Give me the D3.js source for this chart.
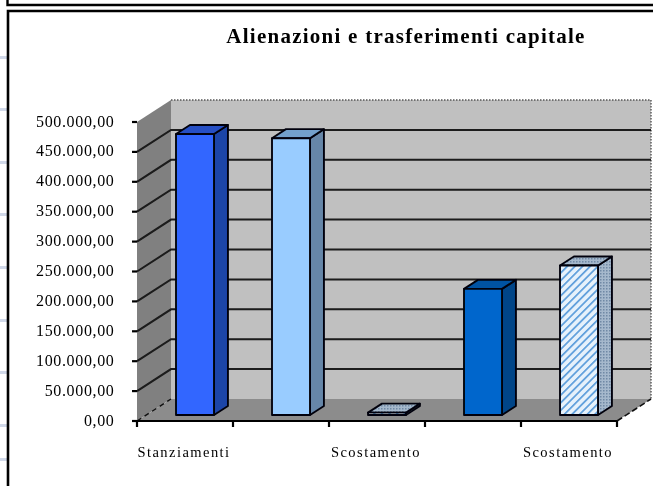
<!DOCTYPE html>
<html><head><meta charset="utf-8">
<script src="https://cdn.jsdelivr.net/npm/d3@7"></script>
<style>html,body{margin:0;padding:0;background:#fff}svg{display:block}text{font-family:"Liberation Serif",serif;fill:#000}</style>
</head><body><svg id="c" width="653" height="486"></svg>
<script>
const chartTitle = "Alienazioni e trasferimenti capitale";
const categories = ["Stanziamenti", "Cat2", "Scostamento", "Cat4", "Scostamento "];
const categoryLabels = ["Stanziamenti", "", "Scostamento", "", "Scostamento"];
const values = [470000, 463000, 4000, 211000, 250000];
const frontColors = ["#3366ff", "#99ccff", "hatch", "#0066cc", "hatch"];
const topColors = ["#2650c4", "#73a0cc", "#8fa9c4", "#0052a3", "#8fa9c4"];
const sideColors = ["#1f44a8", "#6686a8", "#8a9bb0", "#004488", "#8a9bb0"];
const yTicks = [0,50000,100000,150000,200000,250000,300000,350000,400000,450000,500000];
const pageMarksY = [57,109,162,214,267,320,372,425,459];
const fmt = v => d3.format(",.2f")(v).replace(/,/g,"#").replace(".",",").replace(/#/g,".");

const root = d3.select("#c");
const defs = root.append("defs");
defs.append("filter").attr("id","soft").attr("x",0).attr("y",0).attr("width","100%").attr("height","100%")
  .append("feGaussianBlur").attr("stdDeviation",0.4);
const svg = root.append("g").attr("filter","url(#soft)");
svg.append("rect").attr("width",653).attr("height",486).attr("fill","#fff");
const h = defs.append("pattern").attr("id","hatch").attr("width",5.4).attr("height",5.4)
  .attr("patternUnits","userSpaceOnUse").attr("patternTransform","rotate(-45)");
h.append("rect").attr("width",5.4).attr("height",5.4).attr("fill","#e6f1fb");
h.append("rect").attr("width",5.4).attr("height",1.7).attr("fill","#5c9ddb");
const d = defs.append("pattern").attr("id","dots").attr("width",3).attr("height",3).attr("patternUnits","userSpaceOnUse");
d.append("rect").attr("width",3).attr("height",3).attr("fill","#a5b8cc");
d.append("rect").attr("width",1.5).attr("height",1.5).attr("fill","#7089a5");

// page fragments
pageMarksY.forEach(y=>svg.append("rect").attr("x",0).attr("y",y-1).attr("width",7).attr("height",3).attr("fill","#d0d8e8"));
svg.append("path").attr("d","M7.5 0V5H653").attr("fill","none").attr("stroke","#000").attr("stroke-width",2.4);
svg.append("path").attr("d","M653 11H8V486").attr("fill","none").attr("stroke","#000").attr("stroke-width",2.6);

// 3D geometry
const x = d3.scaleBand().domain(categories).range([137,617]);
const y = d3.scaleLinear().domain([0,500000]).range([421,122]);
const depth = {dx:34, dy:-22};
const wallX0 = x.range()[0]+depth.dx, wallX1 = x.range()[1]+depth.dx;
const line = d3.line();
// back wall
svg.append("path").attr("d",line([[wallX0,y(500000)+depth.dy],[wallX1,y(500000)+depth.dy],[wallX1,y(0)+depth.dy],[wallX0,y(0)+depth.dy]])+"Z").attr("fill","#c0c0c0");
svg.append("path").attr("d",line([[wallX0,y(500000)+depth.dy],[wallX1,y(500000)+depth.dy],[wallX1,y(0)+depth.dy]])).attr("fill","none").attr("stroke","#555").attr("stroke-width",1.4).attr("stroke-dasharray","1.5 1.5");
// left wall
svg.append("path").attr("d",line([[137,y(0)],[wallX0,y(0)+depth.dy],[wallX0,y(500000)+depth.dy],[137,y(500000)]])+"Z").attr("fill","#808080");
// floor
svg.append("path").attr("d",line([[137,y(0)],[wallX0,y(0)+depth.dy],[wallX1,y(0)+depth.dy],[617,y(0)]])+"Z").attr("fill","#8c8c8c");
// gridlines
yTicks.forEach(t=>{
  if(t>0 && t<500000) svg.append("path").attr("d",line([[137,y(t)],[wallX0,y(t)+depth.dy],[wallX1,y(t)+depth.dy]])).attr("fill","none").attr("stroke","#1a1a1a").attr("stroke-width",2);
});
svg.append("path").attr("d",line([[137,y(0)],[wallX0,y(0)+depth.dy]])).attr("fill","none").attr("stroke","#111").attr("stroke-width",1.4).attr("stroke-dasharray","5 4");
svg.append("path").attr("d",line([[617,y(0)],[wallX1,y(0)+depth.dy]])).attr("fill","none").attr("stroke","#111").attr("stroke-width",1.6).attr("stroke-dasharray","6 3");
// axes
svg.append("path").attr("d",line([[137,421],[617,421]])).attr("stroke","#000").attr("stroke-width",2);
x.domain().forEach(c=>{svg.append("line").attr("x1",x(c)).attr("x2",x(c)).attr("y1",421).attr("y2",427).attr("stroke","#000").attr("stroke-width",2.2);});
svg.append("line").attr("x1",617).attr("x2",617).attr("y1",421).attr("y2",427).attr("stroke","#000").attr("stroke-width",2.2);
svg.append("g").selectAll("text").data(categories).join("text")
  .attr("x",c=>x(c)+x.bandwidth()/2-1).attr("y",457).attr("text-anchor","middle")
  .attr("font-size",14.5).attr("letter-spacing",1.45).text((c,i)=>categoryLabels[i]);
yTicks.forEach(t=>{
  svg.append("line").attr("x1",132).attr("x2",137).attr("y1",y(t)).attr("y2",y(t)).attr("stroke","#000").attr("stroke-width",2.2);
  svg.append("text").attr("x",114.5).attr("y",y(t)+4.5).attr("text-anchor","end").attr("font-size",16).attr("letter-spacing",0.65).text(fmt(t));
});
// bars
const barOffset=39, barW=38, fz=0.27, bz=0.68;
values.forEach((v,i)=>{
  const x0=x(categories[i])+barOffset, x1=x0+barW;
  const ox=depth.dx*(bz-fz), oy=depth.dy*(bz-fz);
  const base=y(0)+depth.dy*fz, top=base-(y(0)-y(v));
  const fill=frontColors[i]==="hatch"?"url(#hatch)":frontColors[i];
  const side=frontColors[i]==="hatch"?"url(#dots)":sideColors[i];
  const top_=frontColors[i]==="hatch"?"url(#dots)":topColors[i];
  const st={stroke:"#05050f","stroke-width":1.9,"stroke-linejoin":"round"};
  const p=(pts,f)=>{const s=svg.append("path").attr("d",line(pts)+"Z").attr("fill",f);Object.entries(st).forEach(([k,a])=>s.attr(k,a));};
  p([[x1,top],[x1+ox,top+oy],[x1+ox,base+oy],[x1,base]],side);
  p([[x0,top],[x0+ox,top+oy],[x1+ox,top+oy],[x1,top]],top_);
  p([[x0,top],[x1,top],[x1,base],[x0,base]],fill);
});
// title
svg.append("text").attr("x",406).attr("y",43).attr("text-anchor","middle").attr("font-size",21).attr("font-weight","bold").attr("letter-spacing",1.25).text(chartTitle);
</script></body></html>
